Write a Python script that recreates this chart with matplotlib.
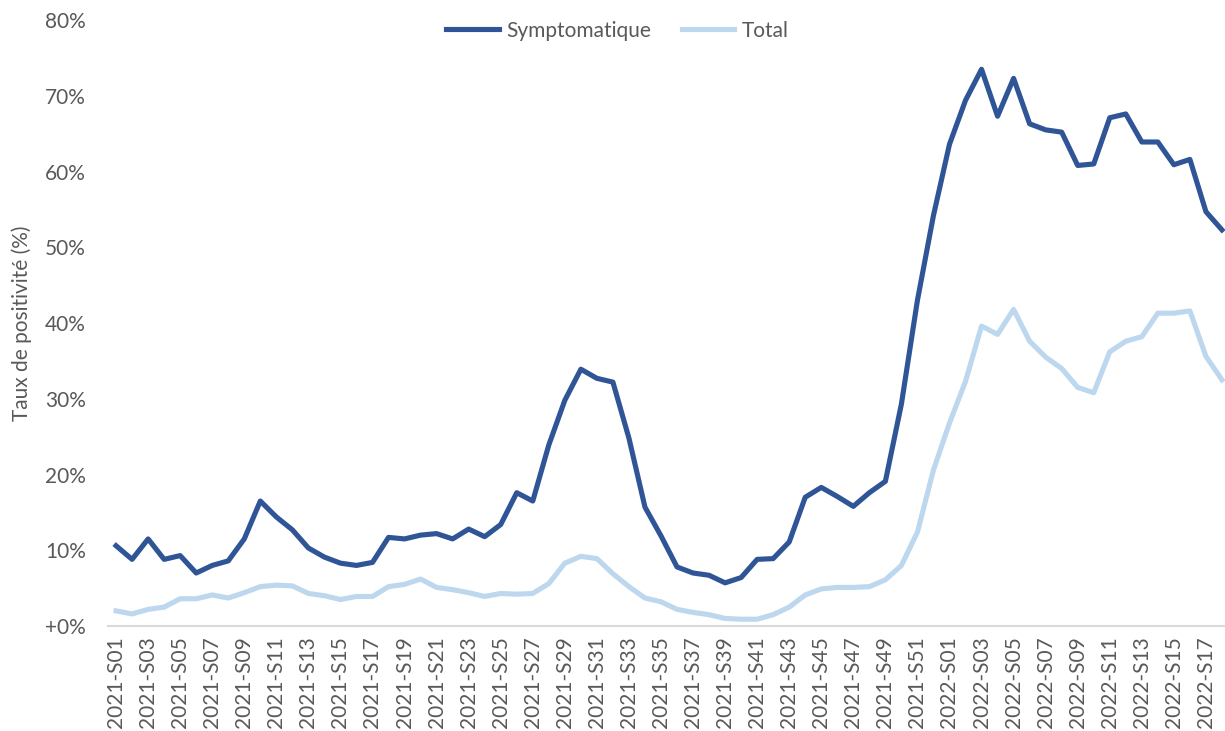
import numpy as np
import matplotlib.pyplot as plt
from matplotlib.ticker import FuncFormatter

# weekly positivity rates (%), 2021-S01 .. 2022-S18
weeks = [f"2021-S{w:02d}" for w in range(1, 53)] + [f"2022-S{w:02d}" for w in range(1, 19)]

symptomatique = [10.6, 8.8, 11.5, 8.8, 9.3, 7.0, 8.0, 8.6, 11.5, 16.5,
                 14.4, 12.7, 10.3, 9.1, 8.3, 8.0, 8.4, 11.7, 11.5, 12.0,
                 12.2, 11.5, 12.8, 11.8, 13.4, 17.6, 16.5, 23.9, 29.8, 33.9,
                 32.7, 32.2, 24.8, 15.7, 11.9, 7.8, 7.0, 6.7, 5.7, 6.4,
                 8.8, 8.9, 11.1, 17.0, 18.3, 17.1, 15.8, 17.6, 19.1, 29.3,
                 43.0, 54.2, 63.6, 69.4, 73.5, 67.3, 72.3, 66.3, 65.5, 65.2,
                 60.8, 61.0, 67.1, 67.6, 63.9, 63.9, 60.9, 61.6, 54.7, 52.3]

total = [2.0, 1.6, 2.2, 2.5, 3.6, 3.6, 4.1, 3.7, 4.4, 5.2,
         5.4, 5.3, 4.3, 4.0, 3.5, 3.9, 3.9, 5.2, 5.5, 6.2,
         5.1, 4.8, 4.4, 3.9, 4.3, 4.2, 4.3, 5.6, 8.3, 9.2,
         8.9, 6.9, 5.2, 3.7, 3.2, 2.2, 1.8, 1.5, 1.0, 0.9,
         0.9, 1.5, 2.5, 4.1, 4.9, 5.1, 5.1, 5.2, 6.1, 8.0,
         12.4, 20.6, 26.8, 32.3, 39.6, 38.5, 41.8, 37.6, 35.5, 34.0,
         31.5, 30.8, 36.2, 37.6, 38.2, 41.3, 41.3, 41.6, 35.6, 32.5]

plt.rcParams['font.family'] = ['Lato', 'DejaVu Sans']
grey = '#595959'

fig = plt.figure(figsize=(12.25, 7.31), dpi=100)
ax = fig.add_axes([0.0882, 0.1436, 0.9118, 0.829])

x = np.arange(len(weeks))
ax.plot(x, symptomatique, color='#2F5597', lw=3.7, label='Symptomatique', solid_joinstyle='round')
ax.plot(x, total, color='#BDD7EE', lw=3.7, label='Total', solid_joinstyle='round')

ax.set_xlim(-0.5, 69.19)
ax.set_ylim(0, 80)
ax.set_yticks(np.arange(0, 81, 10))
ax.yaxis.set_major_formatter(FuncFormatter(lambda v, p: '+0%' if v == 0 else f'{v:.0f}%'))
ax.set_xticks(x[::2])
ax.set_xticklabels(weeks[::2], rotation=90)

for s in ['top', 'right', 'left']:
    ax.spines[s].set_visible(False)
ax.spines['bottom'].set_color('#D9D9D9')
ax.spines['bottom'].set_linewidth(1.5)
ax.tick_params(axis='y', length=0, pad=16, labelsize=15, labelcolor=grey)
ax.tick_params(axis='x', length=0, pad=7, labelsize=15, labelcolor=grey)

ax.set_ylabel('Taux de positivité (%)', fontsize=15, color=grey)
ax.yaxis.set_label_coords(-0.068, 0.5)

leg = fig.legend(loc='center', bbox_to_anchor=(0.504, 0.958), ncol=2, frameon=False,
                 fontsize=15, handlelength=2.5, handletextpad=0.35, columnspacing=1.5)
for t in leg.get_texts():
    t.set_color(grey)

fig.savefig('out.png', dpi=100)
